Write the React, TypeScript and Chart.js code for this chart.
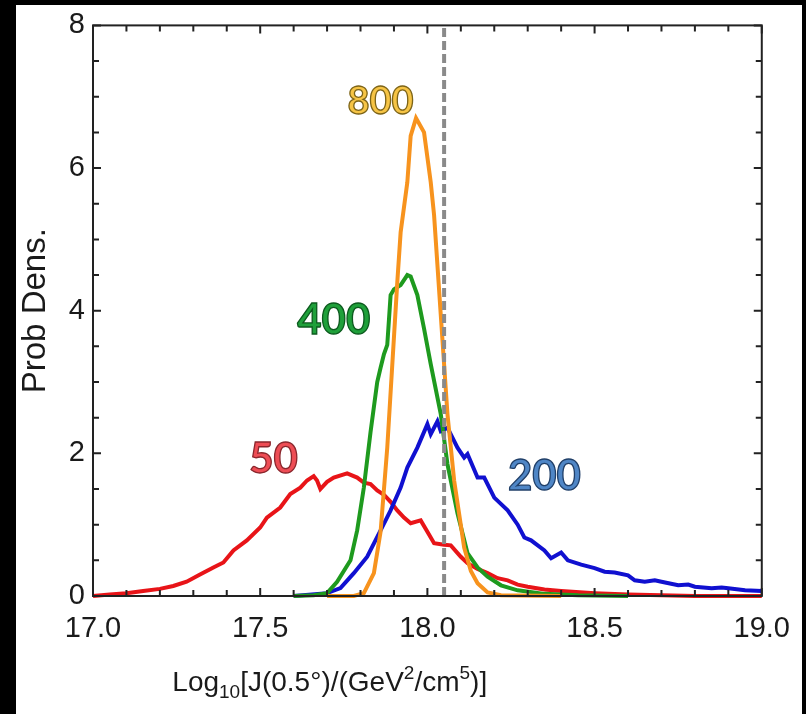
import React, { useEffect, useRef } from 'react';
import { Chart, registerables } from 'chart.js';

Chart.register(...registerables);

// ---- axis ranges / ticks ----
const xMin = 17.0;
const xMax = 19.0;
const yMin = 0;
const yMax = 8;
const xMajorStep = 0.5;
const xMinorStep = 0.1;
const yMajorStep = 2;
const yMinorStep = 0.5;
const refLineX = 18.05;

// ---- series: 50 (red) ----
const s50X = [17.00, 17.05, 17.10, 17.15, 17.20, 17.24, 17.28, 17.32, 17.36, 17.39, 17.42, 17.46, 17.50, 17.52, 17.56, 17.59, 17.62, 17.64, 17.66, 17.67, 17.68, 17.70, 17.72, 17.76, 17.79, 17.81, 17.83, 17.85, 17.87, 17.89, 17.91, 17.93, 17.95, 17.98, 18.00, 18.02, 18.05, 18.07, 18.10, 18.12, 18.15, 18.18, 18.21, 18.24, 18.27, 18.30, 18.35, 18.40, 18.50, 18.60, 18.70, 18.80, 19.00];
const s50Y = [0.0, 0.02, 0.04, 0.07, 0.10, 0.14, 0.20, 0.30, 0.40, 0.47, 0.64, 0.78, 0.96, 1.10, 1.24, 1.43, 1.52, 1.62, 1.68, 1.62, 1.50, 1.60, 1.66, 1.72, 1.66, 1.59, 1.57, 1.48, 1.42, 1.32, 1.20, 1.10, 1.02, 1.06, 0.90, 0.74, 0.72, 0.71, 0.55, 0.46, 0.38, 0.32, 0.25, 0.22, 0.16, 0.13, 0.09, 0.07, 0.04, 0.02, 0.01, 0.0, 0.0];

// ---- series: 400 (green) ----
const s400X = [17.60, 17.66, 17.70, 17.73, 17.77, 17.79, 17.81, 17.83, 17.85, 17.86, 17.87, 17.88, 17.89, 17.90, 17.92, 17.94, 17.95, 17.97, 17.99, 18.01, 18.04, 18.06, 18.09, 18.12, 18.15, 18.18, 18.22, 18.27, 18.35, 18.45, 18.60];
const s400Y = [0.0, 0.01, 0.04, 0.20, 0.50, 0.92, 1.52, 2.30, 3.00, 3.20, 3.39, 3.52, 4.22, 4.30, 4.36, 4.50, 4.48, 4.22, 3.75, 3.25, 2.55, 1.85, 1.16, 0.60, 0.40, 0.27, 0.15, 0.08, 0.03, 0.01, 0.0];

// ---- series: 800 (orange) ----
const s800X = [17.70, 17.78, 17.81, 17.84, 17.86, 17.88, 17.91, 17.92, 17.94, 17.95, 17.966, 17.99, 18.01, 18.02, 18.04, 18.06, 18.08, 18.11, 18.13, 18.15, 18.18, 18.22, 18.40];
const s800Y = [0.0, 0.0, 0.04, 0.32, 0.90, 2.08, 4.40, 5.10, 5.80, 6.45, 6.70, 6.50, 5.80, 5.34, 3.94, 2.55, 1.62, 0.68, 0.35, 0.18, 0.05, 0.01, 0.0];

// ---- series: 200 (blue) ----
const s200X = [17.60, 17.70, 17.74, 17.78, 17.82, 17.86, 17.89, 17.92, 17.94, 17.97, 18.00, 18.01, 18.03, 18.04, 18.06, 18.09, 18.11, 18.12, 18.15, 18.17, 18.20, 18.24, 18.27, 18.29, 18.31, 18.35, 18.37, 18.40, 18.42, 18.46, 18.50, 18.53, 18.56, 18.60, 18.62, 18.65, 18.68, 18.70, 18.75, 18.78, 18.80, 18.85, 18.88, 18.90, 18.95, 19.00];
const s200Y = [0.0, 0.04, 0.11, 0.32, 0.55, 0.92, 1.20, 1.52, 1.80, 2.08, 2.41, 2.27, 2.45, 2.31, 2.36, 2.08, 1.94, 1.99, 1.66, 1.66, 1.38, 1.20, 1.00, 0.82, 0.78, 0.64, 0.53, 0.61, 0.50, 0.44, 0.39, 0.34, 0.33, 0.29, 0.22, 0.20, 0.22, 0.20, 0.15, 0.16, 0.13, 0.11, 0.12, 0.11, 0.08, 0.07];

// ---- in-plot labels ----
const labelTexts = ['800', '400', '50', '200'];
const labelX = [17.86, 17.72, 17.54, 18.35];
const labelY = [6.93, 3.87, 1.91, 1.67];
const labelFill = ['#F6C445', '#1FA03A', '#EE4D55', '#4F86C6'];
const labelStroke = ['#7d6418', '#0c5a1e', '#8a262c', '#203f68'];
const labelSize = [38, 42, 42, 42];

const zip = (xs: number[], ys: number[]) => xs.map((x, i) => ({ x, y: ys[i] }));

const backgroundPlugin = {
  id: 'bgFrame',
  beforeDraw(chart: any) {
    const ctx = chart.ctx;
    ctx.save();
    ctx.fillStyle = '#000';
    ctx.fillRect(0, 0, chart.width, chart.height);
    ctx.fillStyle = '#fff';
    ctx.fillRect(16, 5, 786, chart.height - 5);
    ctx.restore();
  },
};

const framePlugin = {
  id: 'frameTicks',
  afterDatasetsDraw(chart: any) {
    const ctx = chart.ctx;
    const { left, right, top, bottom } = chart.chartArea;
    const xs = chart.scales.x;
    const ys = chart.scales.y;
    ctx.save();
    ctx.strokeStyle = '#222';
    ctx.lineWidth = 2;
    ctx.strokeRect(left, top, right - left, bottom - top);
    ctx.beginPath();
    const nx = Math.round((xMax - xMin) / xMinorStep);
    for (let i = 0; i <= nx; i++) {
      const v = xMin + i * xMinorStep;
      const r = v / xMajorStep;
      const major = Math.abs(r - Math.round(r)) < 1e-6;
      const len = major ? 8 : 6;
      const px = xs.getPixelForValue(v);
      ctx.moveTo(px, bottom);
      ctx.lineTo(px, bottom - len);
      ctx.moveTo(px, top);
      ctx.lineTo(px, top + len);
    }
    const ny = Math.round((yMax - yMin) / yMinorStep);
    for (let i = 0; i <= ny; i++) {
      const v = yMin + i * yMinorStep;
      const r = v / yMajorStep;
      const major = Math.abs(r - Math.round(r)) < 1e-6;
      const len = major ? 8 : 6;
      const py = ys.getPixelForValue(v);
      ctx.moveTo(left, py);
      ctx.lineTo(left + len, py);
      ctx.moveTo(right, py);
      ctx.lineTo(right - len, py);
    }
    ctx.stroke();

    // in-plot labels
    labelTexts.forEach((t, i) => {
      const px = xs.getPixelForValue(labelX[i]);
      const py = ys.getPixelForValue(labelY[i]);
      ctx.font = `bold ${labelSize[i]}px Lato, "Open Sans", sans-serif`;
      ctx.textAlign = 'center';
      ctx.textBaseline = 'middle';
      ctx.fillStyle = labelFill[i];
      ctx.fillText(t, px, py);
      ctx.lineWidth = 1.3;
      ctx.strokeStyle = labelStroke[i];
      ctx.strokeText(t, px, py);
    });

    // x-axis title with sub/superscripts
    const main = '28px "Liberation Sans", Arial, sans-serif';
    const small = '19px "Liberation Sans", Arial, sans-serif';
    const segs: [string, string, number][] = [
      ['Log', main, 0],
      ['10', small, 7],
      ['[J(0.5°)/(GeV', main, 0],
      ['2', small, -12],
      ['/cm', main, 0],
      ['5', small, -12],
      [')]', main, 0],
    ];
    let total = 0;
    segs.forEach(([t, f]) => {
      ctx.font = f;
      total += ctx.measureText(t).width;
    });
    const cx = left + 0.354 * (right - left);
    const baseY = 691;
    let x = cx - total / 2;
    ctx.fillStyle = '#1a1a1a';
    ctx.textAlign = 'left';
    ctx.textBaseline = 'alphabetic';
    segs.forEach(([t, f, dy]) => {
      ctx.font = f;
      ctx.fillText(t, x, baseY + dy);
      x += ctx.measureText(t).width;
    });
    ctx.restore();
  },
};

export default function App() {
  const ref = useRef<HTMLCanvasElement | null>(null);

  useEffect(() => {
    if (!ref.current) return;
    const lineDs = (label: string, xs: number[], ys: number[], color: string) => ({
      label,
      data: zip(xs, ys),
      borderColor: color,
      backgroundColor: color,
      borderWidth: 4,
      pointRadius: 0,
      tension: 0,
      fill: false,
      clip: false as any,
    });
    const chart = new Chart(ref.current, {
      type: 'line',
      data: {
        datasets: [
          {
            label: 'ref',
            data: [
              { x: refLineX, y: yMin },
              { x: refLineX, y: yMax },
            ],
            borderColor: '#8a8a8a',
            borderWidth: 4,
            borderDash: [9, 4],
            pointRadius: 0,
            fill: false,
          },
          lineDs('800', s800X, s800Y, '#F7931E'),
          lineDs('400', s400X, s400Y, '#1E9A1E'),
          lineDs('200', s200X, s200Y, '#1010D0'),
          lineDs('50', s50X, s50Y, '#E81418'),
        ],
      },
      options: {
        animation: false,
        responsive: false,
        layout: { padding: { left: 16, top: 22, right: 38, bottom: 0 } },
        plugins: { legend: { display: false }, tooltip: { enabled: false } },
        scales: {
          x: {
            type: 'linear',
            min: xMin,
            max: xMax,
            grid: { display: false, drawTicks: false },
            border: { display: false },
            ticks: {
              stepSize: xMajorStep,
              color: '#1a1a1a',
              font: { family: '"Liberation Sans", Arial, sans-serif', size: 29 },
              padding: 16,
              maxRotation: 0,
              callback: (v: any) => Number(v).toFixed(1),
            },
            afterFit: (s: any) => {
              s.height = 118;
            },
          },
          y: {
            type: 'linear',
            min: yMin,
            max: yMax,
            grid: { display: false, drawTicks: false },
            border: { display: false },
            ticks: {
              stepSize: yMajorStep,
              color: '#1a1a1a',
              font: { family: '"Liberation Sans", Arial, sans-serif', size: 29 },
              padding: 8,
            },
            title: {
              display: true,
              text: 'Prob Dens.',
              color: '#1a1a1a',
              font: { family: '"Liberation Sans", Arial, sans-serif', size: 33 },
              padding: { top: 0, bottom: 0 },
            },
            afterFit: (s: any) => {
              s.width = 77;
            },
          },
        },
      },
      plugins: [backgroundPlugin, framePlugin],
    });
    return () => chart.destroy();
  }, []);

  return (
    <div style={{ position: 'fixed', left: 0, top: 0, width: 806, height: 714, background: '#000' }}>
      <canvas ref={ref} width={806} height={714} style={{ display: 'block', width: 806, height: 714 }} />
    </div>
  );
}
